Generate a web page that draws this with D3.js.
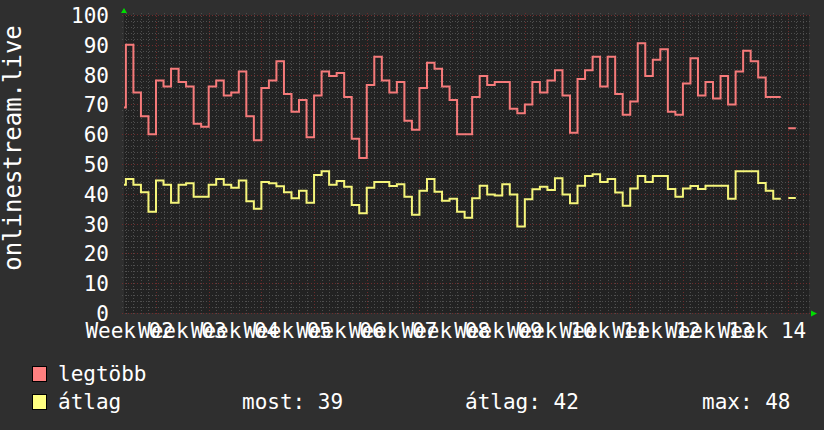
<!DOCTYPE html>
<html>
<head>
<meta charset="utf-8">
<script src="https://cdn.jsdelivr.net/npm/d3@7"></script>
<style>
  html, body { margin: 0; padding: 0; background: #2f2f2f; }
  svg text { font-family: "DejaVu Sans Mono", monospace; fill: #ffffff; }
</style>
</head>
<body>
<svg id="chart" width="824" height="430"></svg>
<script>
// daily values, one per day, day 0 is the partial day at the left edge
let maxValues = [69, 90, 74, 66, 60, 78, 76, 82, 77.5, 76, 63.5, 62.5, 76, 78, 73, 74, 81, 66, 58, 75.5,
    78, 84.5, 73.5, 67.5, 71.5, 59, 73, 81, 79.5, 80.5, 72.5, 58.5, 52, 76.5, 86, 78, 74, 77.5, 64.5, 61.5,
    75.5, 84, 82, 76, 71.5, 60, 60, 72.5, 79.5, 76.5, 77.5, 77.5, 68.5, 67, 70, 77.5, 74, 78, 81.5, 73,
    60.5, 78.5, 81.5, 86, 76, 86, 73.5, 66.5, 71, 90.5, 79.5, 85, 88.5, 67.5, 66.5, 77, 85.5, 73, 77.5, 72,
    79.5, 70, 81, 88, 84.5, 79, 72.5, 72.5, null, 62, null, null];
let avgValues = [43, 45, 43, 40.5, 34, 44.5, 43, 37, 43, 43.5, 39, 39, 43, 45, 43, 42, 44.5, 37.5, 35, 44,
    43.5, 42.5, 40.5, 38.5, 41, 37, 46.3, 47.6, 43, 44.3, 42.4, 36.2, 33.5, 42, 44, 44, 42.6, 43.2, 39, 33,
    41, 45, 40.7, 37.7, 38.3, 34, 32, 38.5, 42.7, 39.8, 39.4, 43.2, 39.8, 29, 38.2, 41.5, 42.4, 41.3, 45.2, 39.8,
    36.8, 42.7, 46, 46.6, 44, 45, 40.4, 36, 41.8, 46, 44, 46, 46, 41.6, 39, 41.8, 42.6, 41.6, 42.7, 42.7,
    42.7, 38.3, 47.6, 47.6, 47.6, 43.6, 41, 38.3, null, 38.6, null, null];
let weekLabels = ["Week 02", "Week 03", "Week 04", "Week 05", "Week 06", "Week 07", "Week 08",
    "Week 09", "Week 10", "Week 11", "Week 12", "Week 13", "Week 14"];
let yTicks = [0, 10, 20, 30, 40, 50, 60, 70, 80, 90, 100];
let seriesNames = ["legtöbb", "átlag"];
let seriesColors = ["#ff8080", "#ffff80"];
let lineColors = ["#f57a7a", "#f5f57a"];
let statLabels = ["most: 39", "átlag: 42", "max: 48"];
let yTitle = "onlinestream.live";

let svg = d3.select("#chart");
let plotLeft = 124, plotRight = 809, plotTop = 15, plotBottom = 313;

// days counted from the first week boundary inside the plot
let firstDay = -4.25, lastDay = 86.75;
let x = d3.scaleLinear().domain([firstDay, lastDay]).range([plotLeft, plotRight]);
let y = d3.scaleLinear().domain([0, 100]).range([plotBottom, plotTop]);

// canvas
svg.append("rect")
    .attr("x", plotLeft).attr("y", plotTop)
    .attr("width", plotRight - plotLeft).attr("height", plotBottom - plotTop)
    .attr("fill", "#222222");

let grid = svg.append("g").attr("shape-rendering", "crispEdges");

// minor grid: daily lines and every 2 units
let dayTicks = d3.range(Math.ceil(firstDay), Math.floor(lastDay) + 1).filter(d => d % 7 !== 0);
grid.selectAll(".vminor").data(dayTicks).enter().append("line")
    .attr("x1", d => Math.round(x(d)) + 0.5).attr("x2", d => Math.round(x(d)) + 0.5)
    .attr("y1", plotTop - 2).attr("y2", plotBottom + 2)
    .attr("stroke", "#4e4e4e").attr("stroke-dasharray", "1,2");
let minorY = d3.range(2, 100, 2).filter(d => d % 10 !== 0);
grid.selectAll(".hminor").data(minorY).enter().append("line")
    .attr("x1", plotLeft - 2).attr("x2", plotRight + 2)
    .attr("y1", d => Math.round(y(d)) + 0.5).attr("y2", d => Math.round(y(d)) + 0.5)
    .attr("stroke", "#4e4e4e").attr("stroke-dasharray", "1,2");

// major grid: week starts and every 10
let weekTicks = d3.range(0, lastDay, 7);
grid.selectAll(".vmajor").data(weekTicks).enter().append("line")
    .attr("x1", d => Math.round(x(d)) + 0.5).attr("x2", d => Math.round(x(d)) + 0.5)
    .attr("y1", plotTop - 2).attr("y2", plotBottom + 2)
    .attr("stroke", "#6e2c2c").attr("stroke-dasharray", "1,2");
grid.selectAll(".hmajor").data(yTicks).enter().append("line")
    .attr("x1", plotLeft - 2).attr("x2", plotRight + 2)
    .attr("y1", d => Math.round(y(d)) + 0.5).attr("y2", d => Math.round(y(d)) + 0.5)
    .attr("stroke", "#6e2c2c").attr("stroke-dasharray", "1,2");

// y labels
svg.append("g").selectAll("text").data(yTicks).enter().append("text")
    .attr("x", 109).attr("y", d => y(d) + 8)
    .attr("text-anchor", "end")
    .attr("font-size", 21)
    .text(d => d);

// x labels, centered in each week
svg.append("g").selectAll("text").data(weekLabels).enter().append("text")
    .attr("x", (d, i) => x((i - 1) * 7 + 3.5))
    .attr("y", 338)
    .attr("text-anchor", "middle")
    .attr("font-size", 21)
    .text(d => d);

// y title
svg.append("text")
    .attr("transform", "translate(21,148) rotate(-90)")
    .attr("text-anchor", "middle")
    .attr("font-size", 24)
    .text(yTitle);

// step lines
function stepPoints(values) {
    let pts = [];
    values.forEach((v, j) => {
        let x0 = Math.max(firstDay, j - 5), x1 = Math.min(lastDay, j - 4);
        if (v === null) { pts.push(null); return; }
        pts.push({ d: x0, v: v });
        pts.push({ d: x1, v: v });
    });
    return pts;
}
let line = d3.line()
    .defined(d => d !== null)
    .x(d => x(d.d))
    .y(d => y(d.v));

[maxValues, avgValues].forEach((vals, i) => {
    svg.append("path")
        .datum(stepPoints(vals))
        .attr("d", line)
        .attr("fill", "none")
        .attr("stroke", lineColors[i])
        .attr("stroke-width", 2)
        .attr("stroke-linejoin", "miter");
});

// axis arrows
svg.append("path")
    .attr("d", `M${plotLeft - 3},13 L${plotLeft + 3},13 L${plotLeft},8 Z`)
    .attr("fill", "#00dd00");
svg.append("path")
    .attr("d", `M811,${plotBottom - 2.5} L811,${plotBottom + 3.5} L817,${plotBottom + 0.5} Z`)
    .attr("fill", "#00dd00");

// legend
let legend = svg.append("g");
seriesNames.forEach((name, i) => {
    let ly = 366 + i * 28;
    legend.append("rect")
        .attr("x", 32.5).attr("y", ly + 0.5)
        .attr("width", 14).attr("height", 15)
        .attr("fill", seriesColors[i])
        .attr("stroke", "#000000");
    legend.append("text")
        .attr("x", 58).attr("y", ly + 15)
        .attr("font-size", 21)
        .text(name);
});
let statX = [242, 465, 702];
statLabels.forEach((s, i) => {
    legend.append("text")
        .attr("x", statX[i]).attr("y", 409)
        .attr("font-size", 21)
        .text(s);
});
</script>
</body>
</html>
